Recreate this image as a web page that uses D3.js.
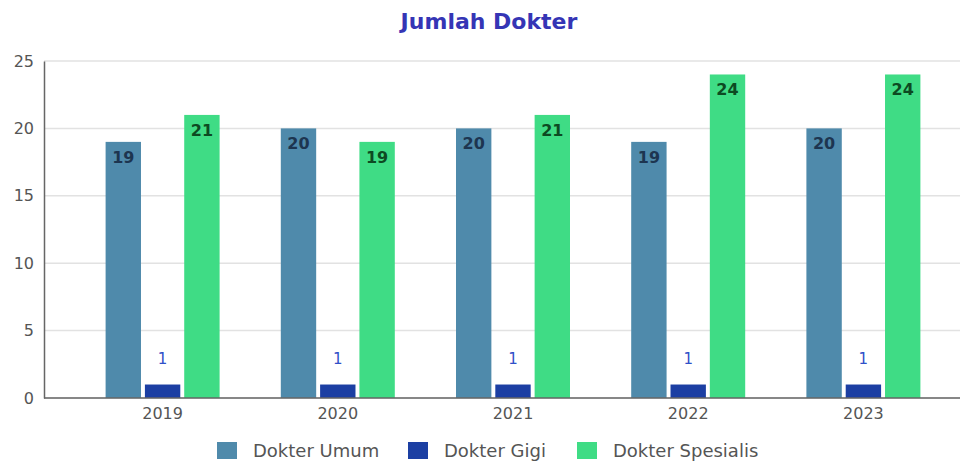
<!DOCTYPE html>
<html>
<head>
<meta charset="utf-8">
<script src="https://cdn.jsdelivr.net/npm/d3@7"></script>
<style>
  html, body { margin: 0; padding: 0; background: #fff; }
  svg { display: block; font-family: "DejaVu Sans", Verdana, sans-serif; }
</style>
</head>
<body>
<svg id="chart" width="968" height="464"></svg>
<script>
const years = ["2019", "2020", "2021", "2022", "2023"];
const seriesNames = ["Dokter Umum", "Dokter Gigi", "Dokter Spesialis"];
const dokterUmum = [19, 20, 20, 19, 20];
const dokterGigi = [1, 1, 1, 1, 1];
const dokterSpesialis = [21, 19, 21, 24, 24];
const yTicks = [0, 5, 10, 15, 20, 25];
const colors = ["#4f8aab", "#1c3fa3", "#3fdc85"];
const labelColors = ["#1d3550", "#3050c8", "#0d4a22"];

const seriesValues = [dokterUmum, dokterGigi, dokterSpesialis];

const svg = d3.select("#chart");
const plotLeft = 44, plotRight = 960, plotTop = 61, plotBottom = 398;

const y = d3.scaleLinear().domain([0, 25]).range([plotBottom, plotTop]);
const x0 = d3.scaleBand().domain(years).range([75, 951]);
const x1 = d3.scaleBand().domain(seriesNames).range([0, 114]).paddingInner(0.1);
const groupOffset = (x0.bandwidth() - 114) / 2;

// Title
svg.append("text")
  .attr("x", 489).attr("y", 29)
  .attr("text-anchor", "middle")
  .attr("font-size", 22).attr("font-weight", "bold")
  .attr("fill", "#3535b5")
  .text("Jumlah Dokter");

// Gridlines
svg.append("g")
  .selectAll("line")
  .data(yTicks)
  .join("line")
  .attr("x1", plotLeft).attr("x2", plotRight)
  .attr("y1", d => y(d)).attr("y2", d => y(d))
  .attr("stroke", "#e2e2e2").attr("stroke-width", 1.5);

// Y axis
const yAxis = d3.axisLeft(y).tickValues(yTicks).tickSize(0).tickPadding(10);
const gy = svg.append("g").attr("transform", `translate(${plotLeft},0)`).call(yAxis);
gy.select(".domain").attr("stroke", "#666").attr("stroke-width", 1.5);
gy.selectAll("text").attr("font-size", 16).attr("fill", "#555").attr("font-family", "DejaVu Sans, sans-serif");

// Bars
const groups = svg.append("g")
  .selectAll("g")
  .data(years)
  .join("g")
  .attr("transform", d => `translate(${x0(d) + groupOffset},0)`);

groups.selectAll("rect")
  .data((d, i) => seriesNames.map((s, k) => ({ s, k, v: seriesValues[k][i] })))
  .join("rect")
  .attr("x", d => x1(d.s))
  .attr("y", d => y(d.v))
  .attr("width", x1.bandwidth())
  .attr("height", d => y(0) - y(d.v))
  .attr("fill", d => colors[d.k]);

groups.selectAll("text")
  .data((d, i) => seriesNames.map((s, k) => ({ s, k, v: seriesValues[k][i] })))
  .join("text")
  .attr("x", d => x1(d.s) + x1.bandwidth() / 2)
  .attr("y", d => d.k === 1 ? y(d.v) - 21 : y(d.v) + 21)
  .attr("text-anchor", "middle")
  .attr("font-size", d => d.k === 1 ? 15 : 16)
  .attr("font-weight", d => d.k === 1 ? "normal" : "bold")
  .attr("fill", d => labelColors[d.k])
  .text(d => d.v);

// X axis
const xAxis = d3.axisBottom(x0).tickSize(0).tickPadding(10);
const gx = svg.append("g").attr("transform", `translate(0,${plotBottom})`).call(xAxis);
gx.select(".domain").remove();
gx.append("line")
  .attr("x1", plotLeft).attr("x2", plotRight)
  .attr("y1", 0).attr("y2", 0)
  .attr("stroke", "#666").attr("stroke-width", 1.5);
gx.selectAll("text").attr("font-size", 16).attr("fill", "#555").attr("font-family", "DejaVu Sans, sans-serif");

// Legend
const legendX = [217, 408, 577];
const legend = svg.append("g")
  .selectAll("g")
  .data(seriesNames)
  .join("g")
  .attr("transform", (d, i) => `translate(${legendX[i]},442)`);
legend.append("rect")
  .attr("width", 20).attr("height", 17)
  .attr("fill", (d, i) => colors[i]);
legend.append("text")
  .attr("x", 36).attr("y", 15)
  .attr("font-size", 18).attr("fill", "#555")
  .text(d => d);
</script>
</body>
</html>
